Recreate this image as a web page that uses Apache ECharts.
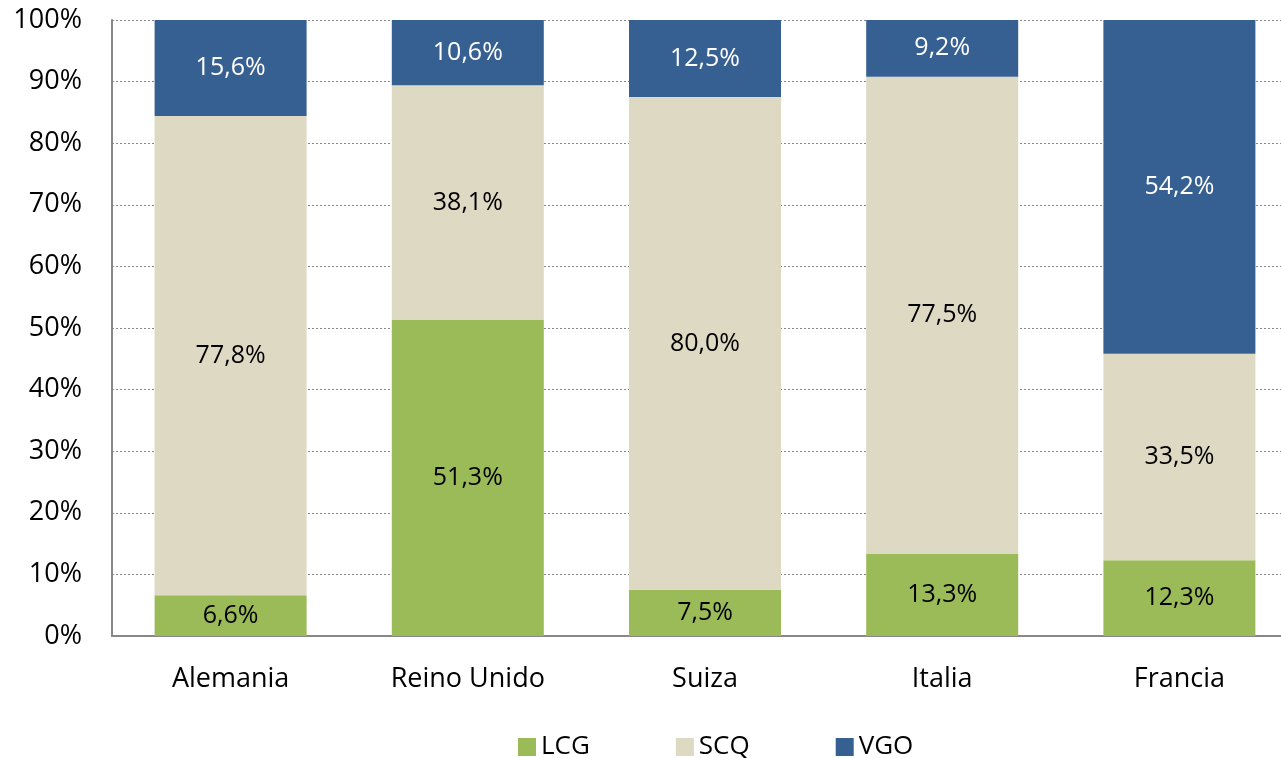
<!DOCTYPE html>
<html><head><meta charset="utf-8">
<script src="https://cdn.jsdelivr.net/npm/echarts@6/dist/echarts.min.js"></script>
<style>html,body{margin:0;padding:0;background:#fff;overflow:hidden}#c{width:1310px;height:758px}</style>
</head><body><div id="c"></div>
<script>
const categories = ["Alemania", "Reino Unido", "Suiza", "Italia", "Francia"];
const LCG = [6.6, 51.3, 7.5, 13.3, 12.3];
const SCQ = [77.8, 38.1, 80.0, 77.5, 33.5];
const VGO = [15.6, 10.6, 12.5, 9.2, 54.2];
const seriesNames = ["LCG", "SCQ", "VGO"];
const colors = ["#9BBB59", "#DDD9C3", "#376092"];
const labelColors = ["#000", "#000", "#fff"];
const FONT = "Open Sans";

const chart = echarts.init(document.getElementById('c'));
const fmt = v => v.toFixed(1).replace('.', ',') + '%';
const data = [LCG, SCQ, VGO];
chart.setOption({
  animation: false,
  textStyle: { fontFamily: FONT },
  grid: { left: 112, top: 20, width: 1186, height: 616 },
  legend: {
    data: seriesNames, left: 513, top: 729, itemWidth: 18, itemHeight: 18, itemGap: 86,
    icon: 'rect', textStyle: { fontFamily: FONT, fontSize: 26, color: '#000' }
  },
  xAxis: {
    type: 'category', data: categories,
    axisLine: { lineStyle: { color: '#888', width: 2 } },
    axisTick: { show: false },
    axisLabel: { fontFamily: FONT, fontSize: 27, color: '#000', margin: 30 }
  },
  yAxis: {
    type: 'value', min: 0, max: 100, interval: 10,
    axisLine: { show: true, lineStyle: { color: '#888', width: 2 } },
    axisTick: { show: false },
    splitLine: { lineStyle: { color: '#888', type: [2, 2], width: 1 } },
    axisLabel: { fontFamily: FONT, fontSize: 27, color: '#000', margin: 30, formatter: v => v + '%' }
  },
  series: seriesNames.map((n, i) => ({
    name: n, type: 'bar', stack: 'a', barWidth: 152, data: data[i],
    itemStyle: { color: colors[i] },
    label: { show: true, position: 'inside', formatter: p => fmt(p.value), fontFamily: FONT, fontSize: 25, color: labelColors[i] }
  }))
});
</script></body></html>
